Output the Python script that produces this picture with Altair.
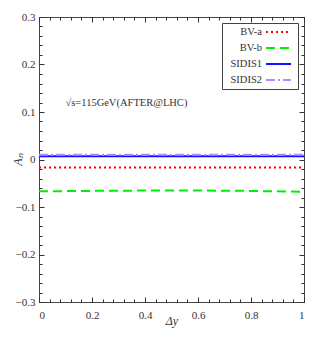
import altair as alt
import pandas as pd

# ---- data ----
x_vals = [0.0, 0.25, 0.5, 0.75, 1.0]
series_names = ["BV-a", "BV-b", "SIDIS1", "SIDIS2"]
bv_a = [-0.017, -0.017, -0.017, -0.017, -0.017]
bv_b = [-0.067, -0.0658, -0.0652, -0.0658, -0.068]
sidis1 = [0.007, 0.007, 0.007, 0.007, 0.007]
sidis2 = [0.010, 0.010, 0.010, 0.010, 0.010]
series_colors = ["#ff0000", "#00ee00", "#1010ff", "#b08cff"]
series_dash = [[2, 3], [9, 5], [1, 0], [9, 3, 2, 3]]

x_major = [0, 0.2, 0.4, 0.6, 0.8, 1]
x_minor = [round(i * 0.04, 2) for i in range(26)]
y_major = [-0.3, -0.2, -0.1, 0, 0.1, 0.2, 0.3]
y_minor = [round(-0.3 + i * 0.02, 2) for i in range(31)]

note_text = "√s=115GeV(AFTER@LHC)"
note_x = [0.1]
note_y = [0.12]

rows = []
for name, vals in zip(series_names, [bv_a, bv_b, sidis1, sidis2]):
    for xv, yv in zip(x_vals, vals):
        rows.append({"dy": xv, "AN": yv, "series": name})
df = pd.DataFrame(rows)
note_df = pd.DataFrame({"x": note_x, "y": note_y, "t": [note_text]})

FONT = "Liberation Serif"
MAJ, MIN = 5, 3
xs = alt.Scale(domain=[0, 1], nice=False, zero=False)
ys = alt.Scale(domain=[-0.3, 0.3], nice=False, zero=False)


def axis(orient, values, size, labels, **kw):
    return alt.Axis(orient=orient, values=values, tickSize=size, offset=-size,
                    labels=labels, domain=False, grid=False, tickColor="#333",
                    tickWidth=1, **kw)


# legend: label text right-aligned, line sample drawn to the right of the text
leg = alt.Legend(orient="top-right", offset=6, labelAlign="right", labelOffset=25,
                 symbolOffset=0)

main = alt.Chart(df).mark_line(strokeWidth=2).encode(
    x=alt.X("dy:Q", scale=xs, title="Δy",
            axis=axis("bottom", x_major, MAJ, True, format="~g", labelPadding=7,
                      titlePadding=-5, titleFontStyle="italic")),
    y=alt.Y("AN:Q", scale=ys, title="Aₙ",
            axis=axis("left", y_major, MAJ, True, format="~g", labelPadding=4,
                      titleX=-27, titleY=142, titleFontStyle="italic",
                      titleBaseline="middle", titleAlign="center")),
    color=alt.Color("series:N", scale=alt.Scale(domain=series_names, range=series_colors),
                    title=None, legend=leg),
    strokeDash=alt.StrokeDash("series:N",
                              scale=alt.Scale(domain=series_names, range=series_dash),
                              title=None, legend=leg),
)


def ghost(xorient, yorient, xv, yv, size):
    return alt.Chart(df).mark_point(opacity=0).encode(
        x=alt.X("dy:Q", scale=xs, title=None, axis=axis(xorient, xv, size, False)),
        y=alt.Y("AN:Q", scale=ys, title=None, axis=axis(yorient, yv, size, False)),
    )


top_major = ghost("top", "right", x_major, y_major, MAJ)
bot_minor = ghost("bottom", "left", x_minor, y_minor, MIN)
top_minor = ghost("top", "right", x_minor, y_minor, MIN)

note = alt.Chart(note_df).mark_text(align="left", baseline="middle", font=FONT,
                                    fontSize=10.5, color="#333").encode(
    x=alt.X("x:Q", scale=xs, axis=None),
    y=alt.Y("y:Q", scale=ys, axis=None),
    text="t:N",
)

chart = alt.layer(main, top_major, bot_minor, top_minor, note).resolve_axis(
    x="independent", y="independent"
).properties(
    width=265, height=285,
    autosize=alt.AutoSizeParams(type="none"),
    padding={"left": 31, "top": 9, "right": 10, "bottom": 33},
).configure_view(
    stroke="#444", strokeWidth=1
).configure_axis(
    labelFont=FONT, labelFontSize=11, labelColor="#333",
    titleFont=FONT, titleFontSize=12, titleColor="#333", titleFontWeight="normal",
).configure_legend(
    labelFont=FONT, labelFontSize=10.5, labelColor="#333",
    symbolType="M7,0H12", symbolSize=100, symbolStrokeWidth=2,
    fillColor="white", strokeColor="#444", padding=3, rowPadding=4,
    labelLimit=200,
)

chart.save("out.html", embed_options={"renderer": "svg", "actions": False})
